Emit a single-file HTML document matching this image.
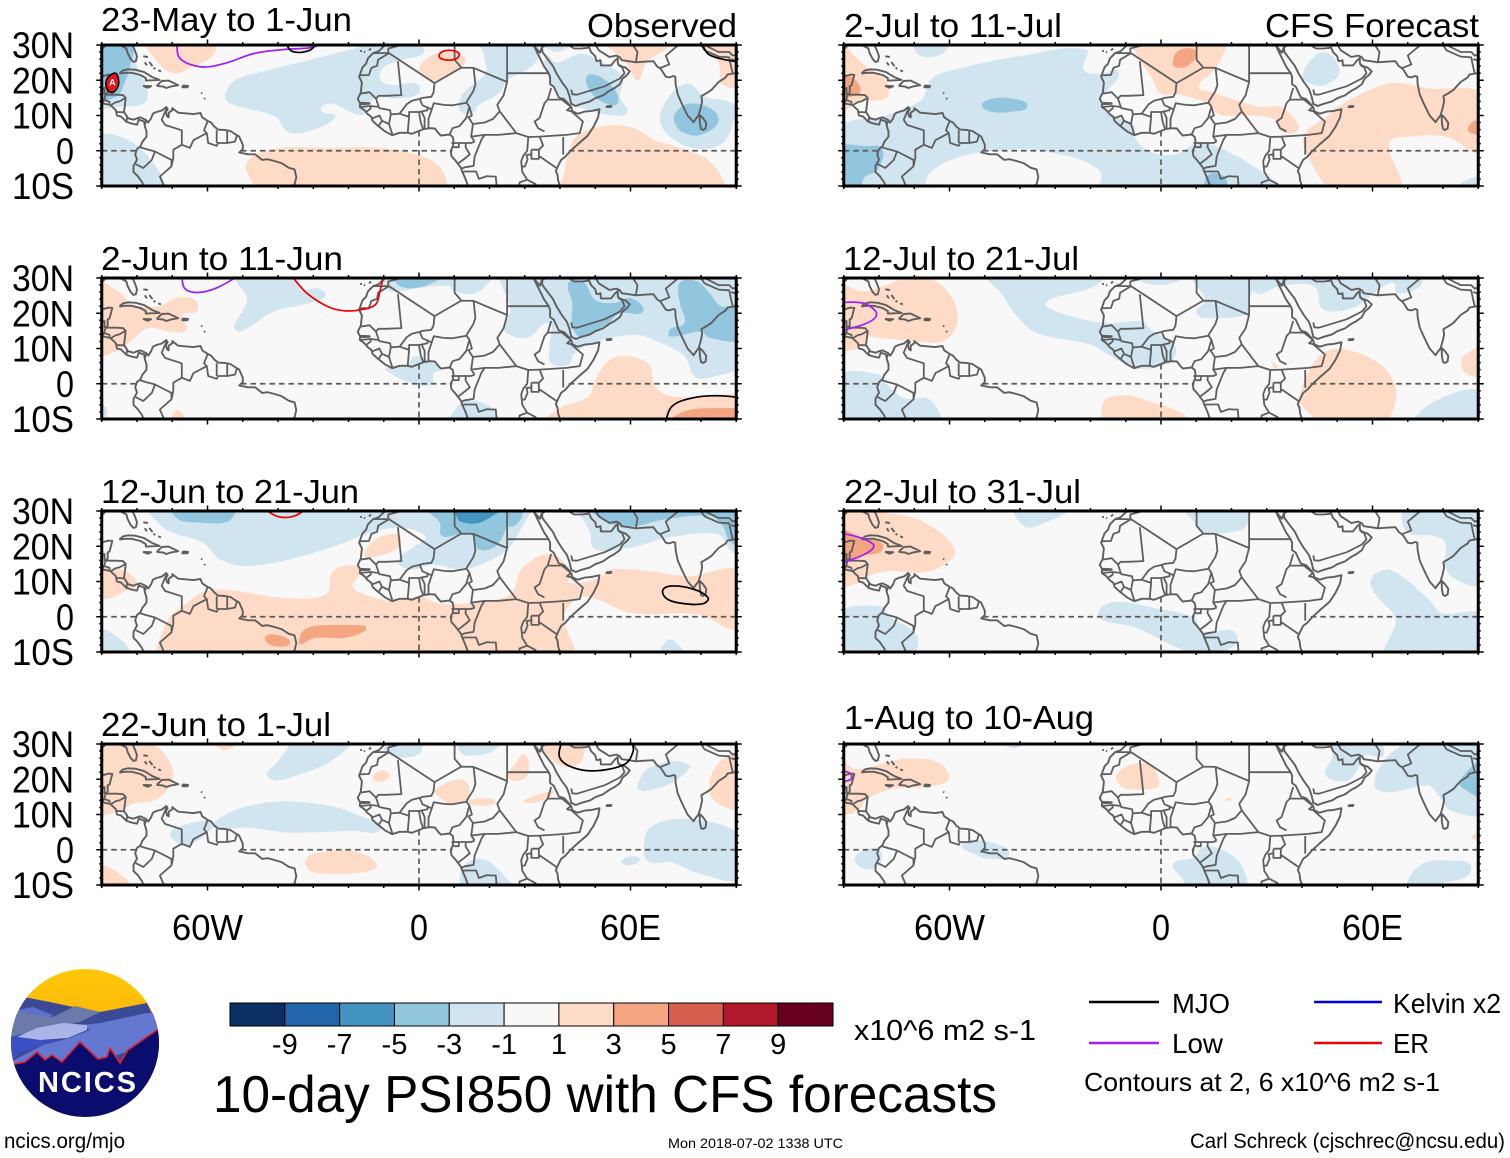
<!DOCTYPE html>
<html lang="en">
<head>
<meta charset="utf-8">
<title>10-day PSI850 with CFS forecasts</title>
<style>
html,body{margin:0;padding:0;background:#fff;}
svg{display:block;}
text{font-family:"Liberation Sans",Arial,sans-serif;fill:#000;}
</style>
</head>
<body>
<svg id="figure" xmlns="http://www.w3.org/2000/svg" width="1510" height="1158" viewBox="0 0 1510 1158">
  <defs>
    <clipPath id="logo-clip"><circle cx="85" cy="1043" r="74"/></clipPath>
    <linearGradient id="logo-sky" x1="0" y1="0" x2="0" y2="1"><stop offset="0" stop-color="#ffc808"/><stop offset="1" stop-color="#f29a06"/></linearGradient>
  </defs>
  <g id="panels"></g>

  <g>
    <text x="101" y="31" font-size="33" textLength="251" lengthAdjust="spacingAndGlyphs">23-May to 1-Jun</text>
    <text x="101" y="270" font-size="33" textLength="242" lengthAdjust="spacingAndGlyphs">2-Jun to 11-Jun</text>
    <text x="101" y="503" font-size="33" textLength="258" lengthAdjust="spacingAndGlyphs">12-Jun to 21-Jun</text>
    <text x="101" y="736" font-size="33" textLength="230" lengthAdjust="spacingAndGlyphs">22-Jun to 1-Jul</text>
    <text x="844" y="37" font-size="33" textLength="218" lengthAdjust="spacingAndGlyphs">2-Jul to 11-Jul</text>
    <text x="843" y="270" font-size="33" textLength="236" lengthAdjust="spacingAndGlyphs">12-Jul to 21-Jul</text>
    <text x="844" y="503" font-size="33" textLength="237" lengthAdjust="spacingAndGlyphs">22-Jul to 31-Jul</text>
    <text x="844" y="729" font-size="33" textLength="250" lengthAdjust="spacingAndGlyphs">1-Aug to 10-Aug</text>
    <text x="587" y="37" font-size="33" textLength="150" lengthAdjust="spacingAndGlyphs">Observed</text>
    <text x="1265" y="37" font-size="33" textLength="214" lengthAdjust="spacingAndGlyphs">CFS Forecast</text>
  </g>

  <g clip-path="url(#logo-clip)">
    <rect x="10" y="968" width="150" height="150" fill="url(#logo-sky)"/>
    <polygon fill="#3a4a94" points="24,997 50,1002 73,1007 100,1012 147,1003 160,1030 160,1070 10,1070 10,1020"/>
    <polygon fill="#5f6fd0" points="10,1012 18,1010 33,1007 53,1015 40,1030 10,1035"/>
    <polygon fill="#6c79ab" points="10,1025 18,1012 33,1014 53,1017 75,1006 100,1012 80,1022 40,1030 10,1037"/>
    <polygon fill="#6478d2" points="160,1013 147,1013 100,1023 82,1025 90,1030 70,1038 43,1045 20,1057 10,1063 60,1075 160,1040"/>
    <polygon fill="#abb5e8" points="17,1037 37,1028 63,1023 87,1025 87,1030 68,1038 40,1040"/>
    <polygon fill="#3c4ec4" points="10,1036 40,1040 57,1040 20,1053 10,1063"/>
    <polygon fill="#0a0c6e" stroke="#e2202a" stroke-width="1.6" points="5,1064 15,1064 25,1062 37,1052 45,1060 52,1055 62,1062 80,1042 98,1059 107,1057 110,1048 120,1063 128,1050 157,1030 170,1025 170,1125 5,1125"/>
    <text x="38" y="1092" font-size="29" font-weight="bold" style="fill:#fff" textLength="98" lengthAdjust="spacing">NCICS</text>
  </g>

  <g id="colorbar"></g>
  <text x="854" y="1040" font-size="29" textLength="182" lengthAdjust="spacingAndGlyphs">x10^6 m2 s-1</text>
  <text x="213" y="1112" font-size="52" textLength="784" lengthAdjust="spacingAndGlyphs">10-day PSI850 with CFS forecasts</text>

  <g>
    <line x1="1089" x2="1159" y1="1002" y2="1002" stroke="#000" stroke-width="2.4"/>
    <text x="1172" y="1013" font-size="28" textLength="58" lengthAdjust="spacingAndGlyphs">MJO</text>
    <line x1="1089" x2="1159" y1="1043" y2="1043" stroke="#a020f0" stroke-width="2.4"/>
    <text x="1172" y="1053" font-size="28" textLength="51" lengthAdjust="spacingAndGlyphs">Low</text>
    <line x1="1314" x2="1382" y1="1002" y2="1002" stroke="#0000e0" stroke-width="2.4"/>
    <text x="1393" y="1013" font-size="28" textLength="108" lengthAdjust="spacingAndGlyphs">Kelvin x2</text>
    <line x1="1314" x2="1382" y1="1043" y2="1043" stroke="#f00000" stroke-width="2.4"/>
    <text x="1393" y="1053" font-size="28" textLength="36" lengthAdjust="spacingAndGlyphs">ER</text>
    <text x="1084" y="1091" font-size="26" textLength="356" lengthAdjust="spacingAndGlyphs">Contours at 2, 6 x10^6 m2 s-1</text>
  </g>

  <text x="4" y="1148" font-size="21" textLength="121" lengthAdjust="spacingAndGlyphs">ncics.org/mjo</text>
  <text x="668" y="1148" font-size="14" textLength="175" lengthAdjust="spacingAndGlyphs">Mon 2018-07-02 1338 UTC</text>
  <text x="1190" y="1148" font-size="21" textLength="315" lengthAdjust="spacingAndGlyphs">Carl Schreck (cjschrec@ncsu.edu)</text>
</svg>

<script>
/* ---------- axis data ---------- */
const lonTickValues = [-60, 0, 60];
const lonTickLabels = ['60W', '0', '60E'];
const latTickValues = [30, 20, 10, 0, -10];
const latTickLabels = ['30N', '20N', '10N', '0', '10S'];

/* ---------- colorbar data ---------- */
const colorbarColors = ['#0a3162','#2166ac','#4393c3','#92c5de','#d1e5f0','#f8f8f8','#fddbc7','#f4a582','#d6604d','#b2182b','#67001f'];
const colorbarLevels = [-9,-7,-5,-3,-1,1,3,5,7,9];

/* ---------- shading: [anomaly value, outline in [lon,lat]] ---------- */
const shadingMayJun = [
  [-2,[[-91,31],[-82,31],[-80,24],[-77,17],[-78,13.5],[-85,12.5],[-91,13]]],
  [-4,[[-91,31],[-81.5,31],[-82,24],[-84,18],[-85.5,15.5],[-91,15]]],
  [2,[[-77,31.5],[-58,31.5],[-58.5,27],[-64,24],[-69.5,22],[-74,25]]],
  [-2,[[-55,15.8],[-52.2,20],[-42.7,22.9],[-30.5,25.9],[-19.7,28.6],[-14.2,30],[-2,30.8],[1.4,28],[-5.4,25.7],[-10.2,23.4],[-10.9,20],[-7.5,18.6],[-0.7,19.1],[0,16.3],[-6,14.8],[-11.5,15.3],[-14.2,13.4],[-16.3,10.1],[-25,13.4],[-27.8,11.5],[-23.7,9.6],[-32,5.4],[-37.3,5.4],[-40.7,9.6],[-53.6,13.4]]],
  [-2,[[18,31],[33,31],[33,25],[25,20],[23,16.5],[17,13],[15,10.5],[11.5,11.5],[12,15.5],[15.5,19],[19,22.2],[18.5,26.5]]],
  [-2,[[36,27],[39,25],[46,27.5],[52,25],[57.7,21],[57,15.3],[59,11],[55,10],[48,11.6],[41.4,14.4],[36.6,21]]],
  [-2,[[35,31],[43,31],[39,28]]],
  [-4,[[47.5,21],[51,21.2],[55.6,17.2],[56.3,13.4],[53,13.4],[49,16.3]]],
  [2,[[53,31.5],[57.7,26],[60,23],[62,20],[64.5,25],[71,29.5],[72,31.5]]],
  [2,[[80,31.5],[91,31.5],[91,18.5],[86,19],[85,25]]],
  [-2,[[69,12],[72.6,17.2],[76.7,19],[81,15.3],[89,13.4],[89.5,9.6],[86,2],[78,0.7],[71.2,4],[68.5,7.8]]],
  [-4,[[72.6,10.6],[76.7,13.4],[83.5,11.5],[84.8,7.8],[79.4,4.4],[74.6,5.4],[72.6,7.8]]],
  [2,[[42.7,0],[44.5,4],[50,6.5],[56,7.3],[62,6],[67,3],[75,0.5],[83,-3.5],[86,-11.5],[41,-11.5],[41.5,-5]]],
  [2,[[-49,-5.5],[-48,-2.2],[-40,0.7],[-25,0.8],[-10,0.7],[3.4,-2.6],[7.5,-7.4],[7,-11.5],[-44,-11.5]]],
  [-2,[[-92,3.5],[-83.5,3.5],[-75.3,-3.6],[-73,-11.5],[-92,-11.5]]],
  [2,[[0.7,24.8],[6.8,28.1],[12.9,26.7],[12.2,23.8],[5.4,20],[0.7,21.5]]]
];
const shadingJun2 = [
  [2,[[-92,28.5],[-84.7,25.7],[-81.2,22.4],[-74,21.9],[-68.8,24.3],[-63.5,23.8],[-63,20.5],[-67,19.6],[-66,15.3],[-70.6,14.8],[-77,15.8],[-81.8,12],[-85.9,9.2],[-92,8.5]]],
  [-2,[[-51.8,31],[-48.8,23.8],[-52.4,16.3],[-50.6,14.8],[-41.2,20.5],[-33,22.4],[-29.4,23.4],[-26.5,25.2],[-28.8,27.1],[-33,26.7],[-36.5,31]]],
  [-2,[[-10,28.6],[-8.2,26.2],[-0.6,27.1],[8.2,27.8],[10,26.2],[16.5,25.9],[20,31],[-11.8,31]]],
  [-4,[[-7,31],[6,31],[1.2,27.6],[-5.3,27.6]]],
  [-2,[[24,31.5],[25.9,21],[24.1,16.7],[24.7,14.4],[30.6,13],[35.9,17.2],[37.6,16.3],[37,10.6],[37.6,5.9],[42.4,5.4],[44.1,8.7],[50.6,12],[61.2,13.9],[66.5,12.5],[75.3,7.8],[78.2,2],[83.5,2],[92,6],[92,31.5]]],
  [-4,[[42.4,28.6],[46.5,29],[50,23.8],[55.3,22.9],[60,24.3],[63.5,20.5],[57,20],[53,16.7],[45.9,13.4],[43.5,16.3],[43.5,22.9]]],
  [-4,[[74,28.6],[79,29],[82.4,25.7],[85.9,21.9],[92,21.9],[92,13],[82.4,13],[80,14.8],[71.2,13.4],[71.2,15.5],[75.3,17.2],[74,22.9]]],
  [-2,[[-9.4,4.4],[-3.5,5.4],[-1.2,7.8],[2.4,6.8],[5.9,4],[4.1,3],[3.5,-0.3],[-2.4,0.2],[-7.6,2.6]]],
  [-2,[[9.4,-11.5],[11.8,-5.5],[16.5,-5],[21.2,-7.4],[22.4,-11.5]]],
  [-2,[[-92,-5],[-88.5,-7.5],[-90,-10.5]]],
  [2,[[-70,-11.5],[-68.5,-7.5],[-66.5,-11.5]]],
  [2,[[35.5,-11.5],[40,-6.9],[48.2,-3.6],[50,1.1],[54.1,6.8],[59.4,7.8],[65.3,5.4],[67,-0.8],[71.8,-3.6],[83.5,-3.6],[92,-3.6],[92,-11.5]]],
  [4,[[71,-11.5],[75.3,-7.8],[86,-6.9],[92,-7.8],[92,-11.5]]]
];
const shadingJun12 = [
  [-2,[[-76.5,31.5],[-71.8,24.8],[-61.2,21],[-56.5,16.3],[-49.4,14.4],[-36.5,16.3],[-21.2,21],[-16.5,22.9],[-7,25.2],[1.8,22.9],[-1.2,20],[-5.9,15.8],[-2.4,13.4],[4.1,14.8],[11.8,13.4],[16.5,14.4],[24.1,18.2],[27,21.5],[29.4,25.7],[33.5,31],[43,31],[48.2,24.8],[50,19.1],[60,19.6],[70.6,22.4],[84.7,23.4],[88.2,19.1],[92,16.3],[92,31.5]]],
  [-4,[[-70,31],[-68.2,27.6],[-62.4,26.7],[-54.1,27.1],[-52.4,31]]],
  [-4,[[2.4,31],[5.9,26.7],[6.5,22.9],[11.8,23.4],[15.3,22.9],[17,19.1],[21.8,20],[24.7,25.2],[25.9,31]]],
  [-4,[[25,31],[29.5,31],[26,25.5]]],
  [-6,[[10,31],[24.1,31],[21.2,28.8],[16.5,26.5],[11.8,27],[10.6,28.6]]],
  [-4,[[49,31],[53.5,26.7],[61.2,25.7],[69.4,27.6],[82.4,28.6],[86,26],[88.5,21],[92,21],[92,31]]],
  [2,[[-73,-11.5],[-71.2,-0.8],[-67,3],[-60.6,7.3],[-51.8,7.3],[-38.8,5.4],[-26.5,6.3],[-24.7,12.5],[-21.2,14.4],[-16.5,13.4],[-18.8,8.7],[-15.3,6.3],[-7,4.4],[0,5.9],[4.7,4],[9.4,3.5],[17.6,4.4],[25.9,6.3],[29.4,13.9],[37.6,17.7],[43,12.5],[42.4,9.6],[51.2,11],[54.1,13.4],[64.7,13],[76.5,11.5],[92,12.5],[92,-3],[78.9,0.7],[60,1.1],[50.6,4.9],[45.3,5.4],[41.2,0.2],[43,-11.5]]],
  [4,[[-34.1,-7.4],[-32.9,-4],[-29.4,-2.6],[-15.3,-2.6],[-15.3,-4],[-21.2,-6],[-29.4,-6],[-33.5,-7.8]]],
  [4,[[-43.5,-5.5],[-41.2,-5],[-37,-6.4],[-37,-8.1],[-41.2,-8.3],[-43.5,-6.9]]],
  [2,[[-15.3,17.2],[-12.9,21.5],[-8.2,23.4],[-5.3,22.9],[-5.9,19.6],[-11.8,17.2]]],
  [2,[[-92,13],[-83.5,13],[-80,9.6],[-81.8,7.8],[-92,5.4]]],
  [-2,[[-92,-3.6],[-84.7,-6.4],[-81.8,-10],[-82,-11.5],[-92,-11.5]]],
  [-2,[[68.8,-11.5],[70,-6.9],[72.4,-6.9],[75.3,-11.5]]]
];
const shadingJun22 = [
  [2,[[-92,31],[-75.1,29.5],[-70.4,24.3],[-70,19.6],[-74.2,14.4],[-81.3,13],[-84.9,11.1],[-92,10.6]]],
  [2,[[-58,31],[-52,31],[-55,28.2]]],
  [-2,[[-43.1,21.5],[-40.7,24.3],[-37.2,29],[-37.2,31],[-19.2,31],[-20.4,28.7],[-26.4,24.3],[-33.6,21.5],[-40.7,19.6]]],
  [-2,[[-9.7,29],[0,31],[0.5,27.6],[-3.7,26.2],[-7.9,26.7]]],
  [-2,[[11.2,31],[23.2,31],[20.2,27.6],[14.2,26.7],[11.8,27.6]]],
  [2,[[27.3,24.3],[29.7,27.1],[31.2,24.3],[30.3,20.5],[26.7,19.6],[25,21]]],
  [2,[[35.1,31],[45.9,31],[46.4,25.7],[42.9,23.4],[38.1,25.3]]],
  [2,[[-13,21],[-10.9,22.4],[-8.5,21.5],[-9.7,19.6],[-12.7,19.6]]],
  [2,[[4.7,17.2],[11.8,20],[14.2,17.7],[13.6,14.4],[9.4,13],[5.3,15.3]]],
  [2,[[14.2,14.2],[21.4,14.2],[21.4,12.8],[14.8,12.8]]],
  [2,[[29.7,13.9],[38.1,16.7],[37.5,15.3],[32.1,13.2]]],
  [-2,[[-58.6,7.3],[-51.5,11.5],[-39.5,13.7],[-25.2,12.5],[-16.8,9.6],[-10.9,5.9],[-19.2,5.4],[-37.1,4.9],[-49.1,6.3],[-57.4,5.9]]],
  [-2,[[-70.6,4.4],[-68.8,6.3],[-59.8,8.2],[-58.6,6.3],[-65.8,1.1],[-69.4,2.6]]],
  [2,[[-32.4,-3.6],[-30,-1.2],[-19.2,-0.3],[-12,-4.1],[-15.6,-6.4],[-30,-6.4]]],
  [-2,[[12.4,-5],[17.8,-2.6],[23.2,-6.4],[26.1,-11.5],[13,-11.5]]],
  [-2,[[63.8,-1.2],[65.6,6.3],[76.9,8.7],[92,3.5],[92,-7.8],[79.9,-6.9],[71.5,-3.6],[65.6,-3.6]]],
  [-2,[[57.4,-3.6],[59.5,-2],[62.6,-2.6],[60.2,-4.3]]],
  [-2,[[62,17.7],[65.6,23.4],[76.3,24.3],[72.7,19.6],[64.4,16.7]]],
  [2,[[82.3,16.7],[84.7,24.3],[92,27.1],[92,12],[85.9,12.5]]],
  [2,[[-92,-5],[-86,-6],[-82,-11.5],[-92,-11.5]]]
];
const shadingJul2 = [
  [2,[[-92,31.5],[-87,27],[-83.4,23.8],[-78,20],[-77.2,17.2],[-78,14.8],[-85.2,13.9],[-92,11.5]]],
  [4,[[-92,21],[-88,21],[-85.2,17.2],[-88,15.3],[-92,15.3]]],
  [-2,[[-69.9,31],[-60.7,31],[-61.9,27.6],[-68.3,27]]],
  [-2,[[-65,20.5],[-57,23.4],[-38.5,27.1],[-21.3,28.7],[-21.9,22.9],[-17,21.9],[-12,22.4],[-15.1,17.2],[-17.6,14.8],[-15.1,11.1],[-7.7,7.3],[-7.7,4.4],[-4,0.2],[3.3,-1.2],[10.7,2.1],[18.1,0.2],[29.2,-6.4],[34.5,-11.5],[-92,-11.5],[-92,5.9],[-77.9,10.1],[-68,14.4]]],
  [0,[[-66,-11.5],[-65.6,-6.4],[-57,-1.7],[-44.6,0.2],[-32.3,-0.3],[-17.6,-5.5],[-19.4,-11.5]]],
  [-4,[[13.2,-7],[18,-7.4],[18,-11.5],[13.2,-11.5]]],
  [-4,[[-92,0.5],[-83.4,1.3],[-79,0.5],[-80.5,-5.5],[-84,-7.4],[-86,-11.5],[-92,-11.5]]],
  [-4,[[-50.8,13],[-47.7,14.8],[-42.2,14.8],[-37.9,12.7],[-42.2,11.1],[-48.3,11.1]]],
  [2,[[-7.7,31],[17.5,31],[15.6,23.4],[10.7,18.2],[14.4,16.7],[21.2,14.4],[27.9,12.5],[33.5,12.5],[37.1,10.1],[39,5.9],[34.1,5.4],[32.8,8.7],[24.2,10.1],[16.9,10.1],[13.2,13.4],[5.8,15.8],[-0.4,16.3],[-2.2,20],[-6.5,26.7]]],
  [4,[[3.3,24.8],[4.6,28.1],[8.9,29],[10.1,27.1],[7,23.8],[3.9,23.8]]],
  [-2,[[40.2,21],[43.9,27.1],[47.6,27.6],[50.7,22.4],[47.6,19.1],[43.9,18.6]]],
  [2,[[40.8,4.9],[47.6,10.1],[50,12.5],[64.8,19.1],[75.9,17.7],[92,15.5],[92,0],[80.8,4],[71,4],[64.8,2.1],[67.3,-11.5],[49.4,-11.5],[41.5,-1.2]]],
  [4,[[87,6.3],[89.5,8.5],[92,5],[88,5]]],
  [-2,[[84,-11.5],[87,-8.1],[92,-8],[92,-11.5]]]
];
const shadingJul12 = [
  [2,[[-92,27.6],[-84.5,26.2],[-76.2,28.6],[-70.2,31],[-63.2,28.6],[-58.5,22.9],[-58,16.3],[-62,12],[-69,12],[-80,13],[-83.5,13],[-84,10.6],[-92,10.6]]],
  [-2,[[-49.4,31],[-24,31],[-17,29],[-31.8,23.8],[-32.4,21.9],[-23.5,18.6],[-15.3,17.2],[-5.3,17.7],[-2.9,15.3],[4.1,10.6],[2.4,5.9],[-7.1,4.4],[-14.1,7.8],[-20,11.1],[-35.3,14.4],[-41.2,19.6],[-45.3,25.7]]],
  [-2,[[-8.2,31],[0,28],[6.5,31]]],
  [-2,[[9.4,31],[12.4,23.8],[10,20],[14.1,18.6],[24.7,20],[25.3,24.8],[27.6,31]]],
  [-2,[[25,31],[27,25.7],[33.5,27.6],[43.5,27.6],[45.3,21.9],[48.2,20.5],[55.3,21.9],[61.2,26.2],[65.9,28.6],[67,25.7],[73.5,27.6],[73.5,31]]],
  [2,[[39.4,-3.6],[41.2,2.1],[45.9,8.7],[52.9,9.6],[62.4,5.4],[66.5,-0.8],[65.9,-7.4],[62.4,-11.5],[47,-11.5],[40.6,-6.9]]],
  [2,[[85.3,4.9],[85.9,7.8],[92,10.1],[92,2.6],[87,2.6]]],
  [2,[[-16.5,-5.5],[-12.9,-3.4],[-5.9,-4.1],[6.5,-11],[-15.3,-11.5]]],
  [2,[[31.8,6],[32.6,5.6],[33,4.6],[32,4.6]]],
  [-2,[[-92,1.9],[-80,2.6],[-77.6,-0.3],[-72.9,-4.1],[-65.6,-4.5],[-63.2,-11.5],[-92,-11.5]]],
  [-2,[[72.4,-11.5],[77.6,-5],[92,-2.2],[92,-11.5]]]
];
const shadingJul22 = [
  [2,[[-92,29.5],[-76.2,29.2],[-67,26.7],[-58.5,19.1],[-62,14.4],[-69,12.5],[-76.2,13],[-82,12],[-85.9,9.6],[-92,9.2]]],
  [4,[[-92,24],[-84.7,22.4],[-78.8,19.6],[-85.9,17.2],[-92,15.3]]],
  [-2,[[-41.2,31],[-27,31],[-34,26.2],[-38.8,25.7]]],
  [-2,[[6.5,31],[24.7,31],[24.1,25.7],[20,24],[11.8,23.8],[8.8,27.6]]],
  [-2,[[-17.6,-0.3],[-16.5,3],[-11.8,4.2],[0,2.1],[9.4,-0.3],[11.8,-4.1],[20.6,-4.1],[21.2,-7.8],[13,-11],[5.9,-9.3],[-7.1,-3.1]]],
  [-2,[[-92,0.7],[-79.4,3],[-77,0.2],[-69.4,-5],[-69.4,-9.3],[-74,-11.5],[-92,-11.5]]],
  [-2,[[59.4,9.6],[61.2,12.5],[65.9,13],[76.5,4.4],[79.4,1.1],[92,0.2],[92,-11.5],[64.1,-11.5],[66.5,-0.8],[61.2,5.9]]],
  [-2,[[68.8,31],[73,31],[92,31],[92,9.6],[83.5,10.6],[80.6,14.4],[80.6,21],[77.6,22.9],[71.2,23.4],[68.8,25.7]]]
];
const shadingAug1 = [
  [2,[[-92,26.7],[-87,22.9],[-76.2,25.2],[-71.8,25.9],[-63.5,25],[-60.2,21.5],[-61,19.1],[-68,17.7],[-76.2,17.2],[-83.5,14.4],[-85.9,11.1],[-92,10.6]]],
  [2,[[-12.7,21],[-9.4,23.8],[-3.4,24.3],[-0.6,20],[-1.2,17.7],[-9.4,17.2],[-11.8,18.6]]],
  [2,[[18.2,14.1],[19.3,14.8],[20,14.1],[18.7,13.9]]],
  [2,[[88.2,4],[92,5],[92,3],[88.5,3]]],
  [-2,[[46.5,21.9],[48.8,26.7],[47.6,29.7],[47.6,31],[61.2,31],[63,26.7],[57.6,26.7],[55.9,22.9],[52.9,19.6],[48.2,20]]],
  [-2,[[60.6,18.2],[63.5,25.7],[68.2,29.7],[68.2,31],[92,31],[92,11],[82.4,11],[78.8,15.3],[75.9,18.2],[64.7,16.3]]],
  [-4,[[84.7,19.1],[89,24.3],[92,25],[92,15.3],[86,17.2]]],
  [-2,[[-56.5,1.1],[-54.1,2.6],[-48.2,2.1],[-43,-1.2],[-48.8,-2.6],[-52.9,-1.2]]],
  [-2,[[-86.8,-2.6],[-84.7,-0.3],[-80,0.2],[-79.4,-3.6],[-81.8,-5.5],[-85.3,-5]]],
  [-2,[[3.5,-4],[9.4,-2.2],[11.8,0.7],[17,0.2],[22.9,-4.5],[23.5,-11.5],[9.4,-11.5],[5.3,-7.4]]],
  [-2,[[69.4,-11.5],[74.1,-4],[83.5,-3.1],[87.6,-4],[87,-7.4],[79,-9.7],[74,-11.5]]],
  [-2,[[-45,31],[-38.8,31],[-41.8,28.8]]]
];

/* ---------- contours: [system, closed?, points in [lon,lat]] ---------- */
const contoursMayJun = [
  ['low',0,[[-68.8,31],[-67.8,26.2],[-61.7,23.8],[-55,24.8],[-46.8,27.6],[-38.7,28.7],[-30.5,29.3],[-26,31]]],
  ['mjo',0,[[-38,31],[-36,28.2],[-31,28.5],[-28.5,31]]],
  ['er',1,[[8.5,28.5],[11.2,27.8],[11,26.4],[8.5,25.7],[5.9,26.4],[6.1,27.8]]],
  ['mjo',0,[[80,31],[82,27.5],[86,26],[92,25]]]
];
const contoursJun2 = [
  ['low',0,[[-67.3,31],[-66.5,27.1],[-63,25.9],[-57.6,27.1],[-50.5,31]]],
  ['er',0,[[-36.5,31],[-31.8,25.7],[-25.9,21.9],[-21.2,20.7],[-16.5,21],[-12.4,22.4],[-11.2,25.7],[-10,31]]],
  ['mjo',0,[[69.7,-11.5],[71.8,-6.4],[77.6,-4],[84.7,-3.4],[92,-4]]]
];
const contoursJun12 = [
  ['er',0,[[-44.5,31],[-40,28.4],[-35.3,28.6],[-31.5,31]]],
  ['mjo',1,[[69.1,7.3],[71.2,8.7],[77.6,7.9],[82,5.4],[80.6,3.7],[75.3,3.7],[70.6,4.9]]]
];
const contoursJun22 = [
  ['mjo',0,[[40.5,31],[39.9,26.2],[43.5,23.4],[50,22.4],[58.4,24.3],[60.8,28.1],[60.2,31]]]
];
const contoursJul2 = [];
const contoursJul12 = [['low',0,[[-91,23.1],[-84.7,22.9],[-80.9,20.5],[-81.2,18.6],[-84.7,16.7],[-91,15]]]];
const contoursJul22 = [['low',0,[[-91,23.8],[-85.2,22.4],[-81.6,20.5],[-82,19.1],[-85.2,17.2],[-91,15.2]]]];
const contoursAug1 = [['low',0,[[-90.5,22.5],[-88,21.5],[-88,20],[-90.5,19.3]]]];

/* tropical-cyclone style ER centre in the first panel */
const stormOutline = [[-86,22],[-85.2,20],[-85.5,18],[-87,16.5],[-88.5,17.5],[-88.7,20],[-87.5,21.5]];
const stormCentre = [-87, 19.3];

/* ---------- geography: polylines in [lon,lat] ---------- */
const coastlines = [
  [[-9.8,31],[-9.8,29.8],[-11.5,28.2],[-13,27.7],[-14.5,26.2],[-15,24.7],[-16,23.7],[-17,21],[-16.2,19.4],[-16.5,16.5],[-17.4,14.7],[-16.7,13.5],[-16.8,12.4],[-15.5,11.5],[-14.7,10.5],[-13.5,9.6],[-13.2,8.5],[-12,7.4],[-11,6.6],[-9.5,5.4],[-7.6,4.4],[-5.5,5.1],[-3.2,5.1],[-2,4.8],[0,5.6],[1.2,6.1],[3,6.4],[4.5,6.3],[5.5,5],[6.2,4.3],[7.5,4.5],[8.7,4.6],[9.6,3.9],[9.8,2.5],[9.6,1.2],[9,0],[9.2,-1.5],[10.5,-3],[11.9,-4.8],[12.3,-6],[13.2,-8],[13.9,-10],[13.8,-11.5]],
  [[40.5,-11.5],[39.5,-8.5],[39.3,-6.8],[38.8,-5.8],[39.6,-4],[40.3,-2.6],[41.5,-1.7],[43,0],[45,1.8],[47.8,4.2],[49.5,6.8],[50.8,9.5],[51.2,11.8],[49,11.3],[47,11.1],[45,10.5],[43.5,11.2],[43.2,12.3],[42.6,13.1],[41.2,14.6],[39.7,15.1],[39,16.5],[38.2,18.2],[37.2,18.9],[37.2,21],[36.8,22],[35.5,23.9],[34.6,25.7],[33.7,27.5],[32.6,29.8],[32.4,31]],
  [[32.6,29.8],[34.3,27.8],[34.9,29.5]],
  [[34.9,29.5],[35,28],[36.5,26],[38,24],[39.1,21.8],[40.5,19.5],[42,17.5],[42.7,15.5],[43.2,13.3],[44.5,12.7],[46,13.3],[48.5,14],[50,14.9],[52.2,15.7],[54,17],[55.5,17.8],[57,18.9],[57.8,20.5],[59,21.5],[59.8,22.5],[58.6,23.6],[57,24],[56.4,24.9],[56.4,26.3],[55.5,25.5],[54.5,24.2],[52.6,24.2],[51.6,24.2],[51.5,25.7],[50.9,25.5],[50.3,25.5],[50,26.8],[48.8,28],[48.2,29.5],[47.8,30],[48.8,30.3],[50,30.2],[51,28.5],[52.6,27.5],[54,26.6],[56,27],[57,26.5],[57.5,25.7],[59.5,25.4],[61.5,25.1],[64.5,25.3],[66.5,25.4],[67.5,24],[68.5,23.3],[69.2,22.3],[70,21],[71,20.8],[72.2,21.2],[72.7,21],[72.8,19],[73.4,16],[74.5,13.5],[75.2,12],[76.2,10],[77.9,8.1],[78.4,8.9],[79.3,10],[79.9,12],[80.3,14],[80.1,15.5],[81.5,16.3],[83,17.3],[85,19.5],[87,20.8],[87.5,21.6],[89,21.9],[90,22],[92,22.6]],
  [[79.6,10.2],[80.6,9.2],[81.5,7.9],[81.3,6.3],[80.5,5.9],[80,6.2],[79.7,7.9],[79.6,10.2]],
  [[53.1,12.6],[54.6,12.7],[54.4,12.4],[53.2,12.4],[53.1,12.6]],
  [[-92,29.3],[-89.5,29.2],[-88.5,30.4],[-86,30.4],[-84.5,29.8],[-83,29],[-82.7,27.8],[-81.8,26],[-81,25.2],[-80.3,25.4],[-80,26.8],[-80.6,28.5],[-81.3,30],[-81.4,31]],
  [[-91,18.8],[-90.7,19.5],[-90.3,21],[-88,21.6],[-87,21.5],[-87.4,20],[-87.8,18.5],[-88.3,18.3],[-88.3,16.5],[-88.9,15.9],[-86,15.9],[-84,15.8],[-83.2,15],[-83.5,12.5],[-83.7,11],[-82.5,9.2],[-81,8.8],[-80,9.2],[-79,9.5],[-77.4,8.7],[-76.8,8],[-76,9.2],[-75.5,10.5],[-74.5,11],[-73,11.4],[-71.7,12.4],[-71.3,11.8],[-71.8,11],[-71.5,9.8],[-71,9.5],[-71,10.8],[-70,11.5],[-70,12.1],[-68.3,10.8],[-66,10.6],[-64,10.4],[-62,10.7],[-61.5,9.5],[-60,8.5],[-59,8],[-58,6.8],[-57,6],[-55,5.9],[-53.5,5.6],[-52,4.6],[-51,4],[-50,1.7],[-50,0.5],[-51,-0.5],[-48.5,-1],[-46.5,-1],[-44.5,-2.6],[-43,-2.4],[-41,-2.9],[-39,-3.5],[-37,-4.8],[-35.3,-5.3],[-34.8,-7.5],[-35.3,-9.5],[-36.5,-10.8],[-37,-11.5]],
  [[-92,14],[-89,13.3],[-87.6,13],[-86,11.5],[-85.7,10],[-84.5,9.7],[-83,8.2],[-81.5,7.7],[-80,7.4],[-79.5,8.8],[-78,8.3],[-77.8,7],[-77.3,5.5],[-77.3,4],[-78.5,2.5],[-79,1.3],[-80,0.5],[-80.5,-1],[-80,-2.5],[-81,-4.3],[-81,-6],[-79.8,-7.2],[-78.5,-9],[-77.8,-11.5]],
  [[-85,21.9],[-84,22.8],[-82.5,23.1],[-80.5,23],[-78,22.3],[-75.5,20.8],[-73.6,20.1],[-77.5,19.9],[-77.5,20.6],[-79,21.5],[-81.5,22.1],[-83.5,22.1],[-85,21.9]],
  [[-78.3,18.4],[-76,18.3],[-77,17.9],[-78.3,18.4]],
  [[-74.4,18.4],[-73,19.8],[-71,19.9],[-68.3,18.6],[-70.5,18.2],[-71.7,17.8],[-72.5,18.2],[-74.4,18.4]],
  [[-67.1,18.5],[-65.5,18.4],[-65.7,18],[-67.1,18],[-67.1,18.5]],
  [[-78.2,26.8],[-76.9,26.6]],[[-77.8,25.1],[-77.2,24.2]],[[-76.5,25.2],[-75.6,24]],[[-75.3,23.6],[-74.8,23.2]],[[-74,22.8],[-73.2,22.5]],
  [[-61.8,16.5],[-61.5,16.2]],[[-60.9,15],[-60.7,14.6]],
  [[-16.7,28.3],[-16.2,28.3]],[[-15.6,28.1],[-15.3,27.9]],[[-14.2,28.5],[-13.6,29]]
];
const borders = [
  [[-13,27.7],[-8.7,27.7],[-8.7,29],[-5,30],[-3.5,31]],
  [[-8.5,27.7],[-11.6,25.8],[-11.9,24.1],[-13.5,23.5],[-14.2,21.5],[-17,21.4]],
  [[-8.5,27.7],[4.4,19.2],[4.1,16.5],[3.5,15.3],[1,15],[0.2,14.7]],
  [[-6,25.4],[-5,15.8],[-9.3,15.6],[-11.5,15.6],[-12.2,14.8],[-14,16.6],[-16.5,16.2]],
  [[4.4,19.2],[12,23.6],[10.1,25.8],[10.1,29.6],[9.8,31]],
  [[12,23.6],[15.5,23.5],[25,19.5]],
  [[25,31],[25,19.5],[24,15.7],[22.2,13],[22.9,11.2]],
  [[25,22],[36.7,22]],
  [[15.5,23.5],[16,18.7],[15.4,16.9],[13.6,14],[13.5,13.5]],
  [[3.6,11.7],[4.2,13.5],[7,13],[9.5,12.9],[13.5,13.6]],
  [[2.7,6.4],[2.7,9],[3.6,11.7],[2.4,12.3],[1,12.9],[0.2,14.7],[-2,14.2],[-3.5,13.2],[-5.5,10.5],[-8,10.3],[-8.2,11.5],[-11.3,12.1],[-12.2,14.8]],
  [[-11.4,12.4],[-13.7,12.7],[-16.7,12.4]],
  [[-16.7,13.6],[-14,13.5],[-14,13.3],[-16.7,13.2]],
  [[-13.7,12.7],[-13.7,12],[-15,11]],
  [[-13.2,9.2],[-11.2,10],[-10.5,8.5],[-11.5,7]],
  [[-10.5,8.5],[-8.5,7.6],[-7.5,4.4]],
  [[-8.5,7.6],[-8,10.3]],
  [[-5.5,10.5],[-2.8,9.6],[-2.8,11],[0,11],[2.4,11.5],[2.4,12.3]],
  [[-3.2,5.1],[-2.8,9.6]],
  [[1.2,6.1],[0.5,8],[0,11]],
  [[1.6,6.2],[1.6,9.3],[0.8,11]],
  [[8.7,4.6],[9.5,6.4],[11.5,7],[13.4,9.3],[14.3,12.5],[13.5,13.6]],
  [[14.3,12.5],[15,10],[14,9.5],[15.3,7.6],[14.8,4],[15.8,2.6]],
  [[9.2,2.2],[14.8,2.2],[15.8,2.6]],
  [[15.3,7.6],[18.6,8],[21,9],[22.9,11.2],[27.6,5]],
  [[14.8,4],[18.6,4.5],[22.5,4.5],[27.6,5],[31,3.9],[34.2,4],[41.8,4.5]],
  [[31,3.9],[30.7,0],[29.6,-1.4],[29,-3],[29.3,-6],[30.7,-8.2],[28.5,-9],[28.5,-11.5]],
  [[18.6,4.5],[17.7,3.1],[15.8,-1.6],[15.5,-4.3],[13,-4.7],[12.2,-5]],
  [[13.3,2.2],[13.2,1],[14.4,-1],[13,-2.2],[11,-3.7]],
  [[9.8,1],[11.3,1],[11.3,2.2]],
  [[12.3,-6],[13,-5.9],[16.2,-5.9],[17,-8],[19.3,-7.2],[20.5,-7.3],[21.8,-7.3],[22,-10],[23,-11.5]],
  [[34.2,4],[35.2,1.5],[34,0.3]],
  [[34.2,-1.6],[39,-4.9]],
  [[31.9,0.3],[34,0.3],[34,-2.3],[31.9,-2.3],[31.9,0.3]],
  [[31.9,-1],[30.5,-1.2],[30.8,-2.5],[30,-4.5],[29.3,-4.5]],
  [[30.7,-8.2],[33,-9.4],[34.5,-11.5]],
  [[40.5,-10.5],[34.5,-11.5]],
  [[35.6,5.5],[33.8,6.4],[32.8,8.3],[34.2,9.3],[35.6,13.5],[36.5,14.5],[37.5,17.8]],
  [[36.5,14.5],[38,14.5],[40.5,14.5],[42.9,12.6]],
  [[43.2,12.5],[42,11.5],[43.2,11.2],[46.5,8.3],[45.6,5],[41.8,4.5]],
  [[40.9,3.9],[40.9,-1.1]],
  [[43.2,17.4],[43.5,16],[44.8,15.9],[52.7,18.3],[57,20.5],[58.3,22],[57.5,24],[56.3,24.5]],
  [[48,29.2],[46,29],[44,29],[39,32]],
  [[37,30.5],[35,29.4]],
  [[61.5,25],[62,28],[61,29.5],[61,31]],
  [[68.5,23.5],[71,24.5],[70,27],[73,29.5],[75,31]],
  [[78,31],[81,30],[85,28],[88,28],[89,27],[92,28]],
  [[80,30],[81,28.5],[85,26.7],[88,26.5],[88.5,24],[89,22]],
  [[88.5,26],[92,25]],
  [[-91,17.2],[-89.2,17.8],[-89.2,16],[-88.9,15.9],[-89.3,14.4],[-89.6,14],[-90,13.7]],
  [[-83.2,15],[-85,14],[-86,13.8],[-87.3,13]],
  [[-89.3,14.4],[-87.8,13.9],[-87.8,13.3]],
  [[-85.7,11],[-83.7,10.9]],
  [[-83,8.2],[-82.8,9.5]],
  [[-77.3,8.6],[-77.8,7.3]],
  [[-71.6,12],[-73,8.8],[-72,7.3],[-67.3,5.8],[-67.3,1.7]],
  [[-60,8.3],[-61,5.8],[-60.2,5],[-64,3],[-65,0.8],[-67.3,1.7],[-69.7,0.3],[-69.7,-2],[-70.2,-4.4]],
  [[-60.2,5],[-59.8,2.2],[-57.4,1.4],[-57,2.2],[-54.4,2.2],[-52.2,2.6],[-51.7,4.2]],
  [[-57.4,5.8],[-57.4,2.2]],
  [[-54.4,5.8],[-54.4,2.2]],
  [[-79.2,1],[-77.5,0.5],[-74.9,-0.2],[-75.8,-2.6],[-78.2,-4.9],[-80.4,-3.8]],
  [[-74.9,-0.2],[-70.2,-2.6],[-70.2,-4.4],[-73.5,-7.3],[-72.5,-9.6],[-71,-11.5]]
];
/* stretches of the equator and prime meridian lying over ocean, where the dashed reference lines show */
const equatorOceanRanges = [[-90,-80],[-50.5,9.5],[42.5,90]];
const meridianOceanRange = [5.6,-10];

/* ---------- panel layout ---------- */
const panelTitles = ['23-May to 1-Jun','2-Jun to 11-Jun','12-Jun to 21-Jun','22-Jun to 1-Jul','2-Jul to 11-Jul','12-Jul to 21-Jul','22-Jul to 31-Jul','1-Aug to 10-Aug'];
const panelShading = [shadingMayJun,shadingJun2,shadingJun12,shadingJun22,shadingJul2,shadingJul12,shadingJul22,shadingAug1];
const panelContours = [contoursMayJun,contoursJun2,contoursJun12,contoursJun22,contoursJul2,contoursJul12,contoursJul22,contoursAug1];

const DEG = 3.525;
const rowTops = [45,278,511,744];
const colZeros = [419,1161];
const contourColors = {mjo:'#000000', low:'#a020f0', er:'#f00000', kelvin:'#0000e0'};
const SVGNS = 'http://www.w3.org/2000/svg';

function svgEl(tag){ return document.createElementNS(SVGNS, tag); }
function xAxis(zero){ return function(lon){ return zero + lon*DEG; }; }
function yAxis(top){ return function(lat){ return top + (30-lat)*DEG; }; }
function colorFor(value){
  let i = 0;
  while(i < colorbarLevels.length && value > colorbarLevels[i]) i++;
  return colorbarColors[i];
}
function unitDir(a,b){
  const dx=b[0]-a[0], dy=b[1]-a[1], len=Math.hypot(dx,dy)||1;
  return [dx/len,dy/len];
}
function smoothPath(points, closed){
  const n = points.length;
  const at = function(i){
    if(closed) return points[(i+n)%n];
    return points[Math.max(0,Math.min(n-1,i))];
  };
  let d = 'M'+points[0][0].toFixed(1)+' '+points[0][1].toFixed(1);
  const segs = closed ? n : n-1;
  for(let i=0;i<segs;i++){
    const p0=at(i-1),p1=at(i),p2=at(i+1),p3=at(i+2);
    const chord=Math.hypot(p2[0]-p1[0],p2[1]-p1[1])/3;
    const t1=unitDir(p0,p2), t2=unitDir(p1,p3);
    const c1x=p1[0]+t1[0]*chord, c1y=p1[1]+t1[1]*chord;
    const c2x=p2[0]-t2[0]*chord, c2y=p2[1]-t2[1]*chord;
    d+='C'+c1x.toFixed(1)+' '+c1y.toFixed(1)+' '+c2x.toFixed(1)+' '+c2y.toFixed(1)+' '+p2[0].toFixed(1)+' '+p2[1].toFixed(1);
  }
  return closed ? d+'Z' : d;
}
function linePath(points){
  return points.map(function(p,i){ return (i?'L':'M')+p[0].toFixed(1)+' '+p[1].toFixed(1); }).join('');
}

const root = document.getElementById('panels');
const defs = document.querySelector('#figure defs');

panelTitles.forEach(function(title, idx){
  const col = idx < 4 ? 0 : 1;
  const row = idx % 4;
  const top = rowTops[row];
  const zero = colZeros[col];
  const xs = xAxis(zero);
  const ys = yAxis(top);
  const toPx = function(pt){ return [xs(pt[0]), ys(pt[1])]; };
  const W = 180*DEG, H = 40*DEG, L = xs(-90), R = xs(90), B = ys(-10);

  const clip = svgEl('clipPath');
  clip.setAttribute('id','clip-panel-'+idx);
  const clipRect = svgEl('rect');
  clipRect.setAttribute('x',L); clipRect.setAttribute('y',top);
  clipRect.setAttribute('width',W); clipRect.setAttribute('height',H);
  clip.appendChild(clipRect);
  defs.appendChild(clip);

  const panel = svgEl('g');
  
  
  root.appendChild(panel);

  const inner = svgEl('g');
  
  
  inner.setAttribute('clip-path','url(#clip-panel-'+idx+')');
  panel.appendChild(inner);

  const bg = svgEl('rect');
  
  
  bg.setAttribute('x',L); bg.setAttribute('y',top);
  bg.setAttribute('width',W); bg.setAttribute('height',H);
  bg.setAttribute('fill',colorFor(0));
  inner.appendChild(bg);

  panelShading[idx].forEach(function(region){
    const path = svgEl('path');
    
    
    path.setAttribute('d', smoothPath(region[1].map(toPx), true));
    path.setAttribute('fill', colorFor(region[0]));
    inner.appendChild(path);
  });

  equatorOceanRanges.forEach(function(range){
    const ln = svgEl('line');
    
    
    ln.setAttribute('x1',xs(range[0])); ln.setAttribute('x2',xs(range[1]));
    ln.setAttribute('y1',ys(0)); ln.setAttribute('y2',ys(0));
    ln.setAttribute('stroke','#5a5a5a'); ln.setAttribute('stroke-width','1.7');
    ln.setAttribute('stroke-dasharray','5.5 4');
    inner.appendChild(ln);
  });
  const mer = svgEl('line');
  
  
  mer.setAttribute('x1',xs(0)); mer.setAttribute('x2',xs(0));
  mer.setAttribute('y1',ys(meridianOceanRange[0])); mer.setAttribute('y2',ys(meridianOceanRange[1]));
  mer.setAttribute('stroke','#5a5a5a'); mer.setAttribute('stroke-width','1.7');
  mer.setAttribute('stroke-dasharray','5.5 4');
  inner.appendChild(mer);

  const coast = svgEl('path');
  
  
  coast.setAttribute('d', coastlines.map(function(l){ return linePath(l.map(toPx)); }).join(''));
  coast.setAttribute('fill','none'); coast.setAttribute('stroke','#5e5e5e');
  coast.setAttribute('stroke-width','1.9'); coast.setAttribute('stroke-linejoin','round');
  inner.appendChild(coast);

  const bord = svgEl('path');
  
  
  bord.setAttribute('d', borders.map(function(l){ return linePath(l.map(toPx)); }).join(''));
  bord.setAttribute('fill','none'); bord.setAttribute('stroke','#5e5e5e');
  bord.setAttribute('stroke-width','1.8'); bord.setAttribute('stroke-linejoin','round');
  inner.appendChild(bord);

  panelContours[idx].forEach(function(c){
    const path = svgEl('path');
    
    
    path.setAttribute('d', smoothPath(c[2].map(toPx), !!c[1]));
    path.setAttribute('fill','none');
    path.setAttribute('stroke', contourColors[c[0]]);
    path.setAttribute('stroke-width','1.7');
    inner.appendChild(path);
  });

  if(idx === 0){
    const storm = svgEl('path');
    
    
    storm.setAttribute('d', smoothPath(stormOutline.map(toPx), true));
    storm.setAttribute('fill','#e8141c'); storm.setAttribute('stroke','#000'); storm.setAttribute('stroke-width','1.5');
    inner.appendChild(storm);
    const mark = svgEl('text');
    
    
    mark.setAttribute('x',xs(stormCentre[0])); mark.setAttribute('y',ys(stormCentre[1])+3);
    mark.setAttribute('font-size','9'); mark.setAttribute('font-weight','bold');
    mark.setAttribute('text-anchor','middle'); mark.style.fill='#fff';
    mark.textContent='A';
    inner.appendChild(mark);
  }

  const frame = svgEl('rect');
  
  
  frame.setAttribute('x',L); frame.setAttribute('y',top);
  frame.setAttribute('width',W); frame.setAttribute('height',H);
  frame.setAttribute('fill','none'); frame.setAttribute('stroke','#000'); frame.setAttribute('stroke-width','3');
  panel.appendChild(frame);

  let tickD = '';
  for(let lon=-90; lon<=90; lon+=10){
    const len = lonTickValues.indexOf(lon)>=0 ? 5.5 : 3;
    tickD += 'M'+xs(lon)+' '+top+'v'+(-len)+'M'+xs(lon)+' '+B+'v'+len;
  }
  for(let lat=-10; lat<=30; lat+=2){
    const len = lat%10===0 ? 5.5 : 2.5;
    tickD += 'M'+L+' '+ys(lat)+'h'+(-len)+'M'+R+' '+ys(lat)+'h'+len;
  }
  const ticks = svgEl('path');
  
  
  ticks.setAttribute('d',tickD); ticks.setAttribute('stroke','#000'); ticks.setAttribute('stroke-width','1.5');
  panel.appendChild(ticks);

  if(col === 0){
    latTickLabels.forEach(function(label,i){
      const t = svgEl('text');
      
      
      t.setAttribute('x',74);
      t.setAttribute('y',ys(latTickValues[i]) + 13);
      t.setAttribute('font-size','37'); t.setAttribute('text-anchor','end');
      t.setAttribute('textLength', label.length>1 ? 62 : 18);
      t.setAttribute('lengthAdjust','spacingAndGlyphs');
      t.textContent = label;
      panel.appendChild(t);
    });
  }
  if(row === 3){
    lonTickLabels.forEach(function(label,i){
      const t = svgEl('text');
      
      
      t.setAttribute('x',xs(lonTickValues[i]));
      t.setAttribute('y',940);
      t.setAttribute('font-size','36'); t.setAttribute('text-anchor','middle');
      t.setAttribute('textLength', label.length===1 ? 18 : (label==='60W' ? 71 : 61));
      t.setAttribute('lengthAdjust','spacingAndGlyphs');
      t.textContent = label;
      panel.appendChild(t);
    });
  }
});

/* ---------- colorbar ---------- */
(function(){
  const bar = document.getElementById('colorbar');
  const x0 = 230, x1 = 833, y0 = 1003, h = 23;
  const seg = (x1-x0)/colorbarColors.length;
  colorbarColors.forEach(function(c,i){
    const r = svgEl('rect');
    
    
    r.setAttribute('x',x0+i*seg); r.setAttribute('y',y0);
    r.setAttribute('width',seg); r.setAttribute('height',h);
    r.setAttribute('fill',c); r.setAttribute('stroke','#000'); r.setAttribute('stroke-width','1');
    bar.appendChild(r);
  });
  colorbarLevels.forEach(function(v,i){
    const t = svgEl('text');
    
    
    t.setAttribute('x',x0+(i+1)*seg);
    t.setAttribute('y',1054);
    t.setAttribute('font-size','29'); t.setAttribute('text-anchor','middle');
    t.textContent = String(v);
    bar.appendChild(t);
  });
})();
</script>
</body>
</html>
